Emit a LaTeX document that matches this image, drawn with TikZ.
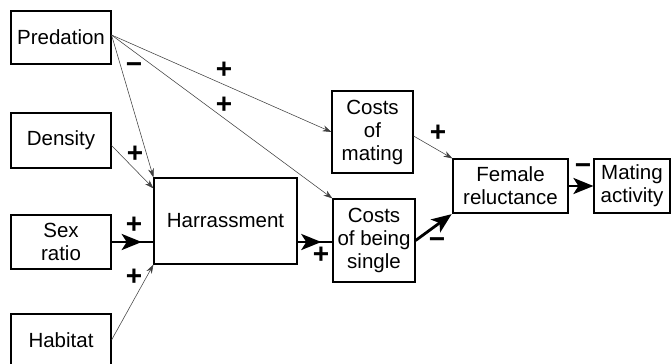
\documentclass[tikz,border=0pt]{standalone}
\usepackage{fontspec}
\setmainfont{Liberation Sans}
\usetikzlibrary{arrows.meta,decorations.markings}
\tikzset{
  box/.style={draw=black, line width=1.1pt, align=center, inner sep=0pt,
    font=\fontsize{20.5}{23}\selectfont},
  thinarr/.style={draw=black!75, line width=0.55pt, -{Stealth[length=9pt,width=6pt]}},
  thickline/.style={draw=black, line width=2.8pt},
  thickarr/.style={thickline, -{Stealth[length=20pt,width=16pt,inset=5pt]}},
  midtip/.style={thickline, postaction={decorate},
    decoration={markings, mark=at position #1 with {\arrow{Stealth[length=20pt,width=16pt,inset=5pt]}}}},
  sign/.style={font=\fontsize{28}{28}\selectfont\bfseries, inner sep=0pt}
}
\begin{document}
\begin{tikzpicture}[x=1pt,y=-1pt]
\useasboundingbox (0,0) rectangle (672,364);
\clip (0,0) rectangle (672,364);
% boxes
\node[box, minimum width=100pt, minimum height=53pt] (pred) at (61,37.5) {Predation};
\node[box, minimum width=100pt, minimum height=55pt] (dens) at (61,140.5) {Density};
\node[box, minimum width=100pt, minimum height=54pt] (sex) at (61,242) {Sex\\ratio};
\node[box, minimum width=100pt, minimum height=52pt] (hab) at (61,340) {Habitat};
\node[box, minimum width=143pt, minimum height=86pt] (har) at (225.5,221) {Harrassment};
\node[box, minimum width=81pt, minimum height=82pt] (cmat) at (372.5,132) {Costs\\of\\mating};
\node[box, minimum width=82pt, minimum height=83pt] (csin) at (374,240.5) {Costs\\of being\\single};
\node[box, minimum width=115pt, minimum height=54pt] (fem) at (510.5,186) {Female\\reluctance};
\node[box, minimum width=76pt, minimum height=54pt] (mat) at (632,186) {Mating\\activity};
% thin connectors
\coordinate (p0) at ([yshift=2.5pt]pred.east);
\draw[thinarr] (p0) -- (cmat.west);
\draw[thinarr] (p0) -- (csin.north west);
\draw[thinarr] (p0) -- (har.north west);
\draw[thinarr] ([yshift=-5pt]dens.east) -- ([yshift=-11pt]har.north west);
\draw[thinarr] (hab.east) -- (har.south west);
\draw[thinarr] ([yshift=-4pt]cmat.east) -- (fem.north west);
% thick connectors
\draw[midtip=0.72] (sex.east) -- (sex.east -| har.west);
\draw[midtip=0.68] (har.east |- sex.east) -- (csin.west |- sex.east);
\draw[thickarr, shorten >=1pt] (csin.east) -- (fem.south west);
\draw[thickarr] (fem.east) -- (mat.west);
% signs
\node[sign] (s1) at (224,70) {+};
\node[sign] (s2) at (224,105) {+};
\node[sign] (s3) at (134,68) {−};
\node[sign] (s4) at (135,154) {+};
\node[sign] (s5) at (134,225) {+};
\node[sign] (s6) at (134,277) {+};
\node[sign] (s7) at (321,255) {+};
\node[sign] (s8) at (438,133) {+};
\node[sign] (s9) at (437,243) {−};
\node[sign] (s10) at (583,169) {−};
\end{tikzpicture}
\end{document}
